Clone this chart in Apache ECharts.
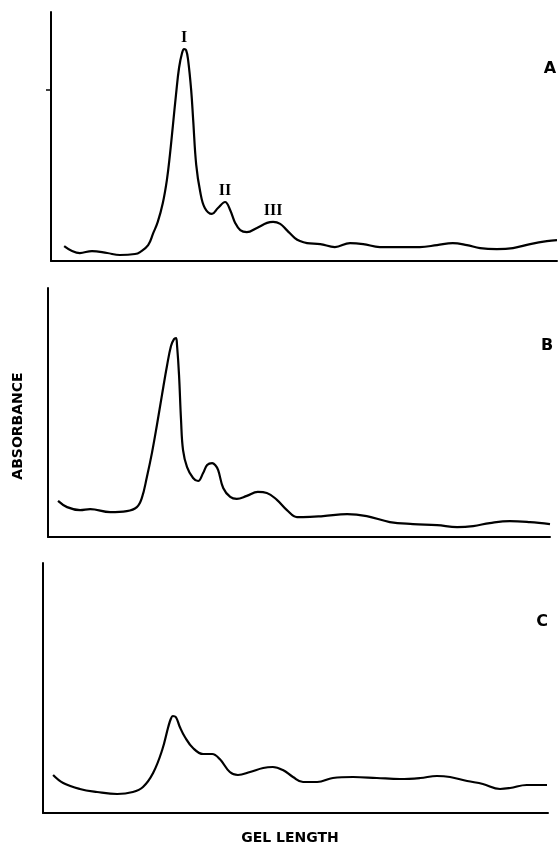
<!DOCTYPE html>
<html>
<head>
<meta charset="utf-8">
<script src="https://cdn.jsdelivr.net/npm/echarts@6/dist/echarts.min.js"></script>
<style>
html, body { margin: 0; padding: 0; background: #fff; }
#chart { width: 560px; height: 846px; }
</style>
</head>
<body>
<div id="chart"></div>
<script>
// gel length (0-100 along each x axis) and absorbance (0-100 of each y axis)
var gelA = [2.6, 5.7, 8.1, 11.1, 13.6, 16.6, 17.6, 19.2, 20.2, 21.1, 22.1, 22.9, 23.5, 24.1, 24.7, 25.3, 25.9, 26.3, 26.7, 27.1, 27.7, 28.1, 28.7, 29.5, 30.4, 31.8, 33.0, 34.4, 35.4, 36.4, 37.4, 38.7, 40.7, 42.7, 43.9, 45.3, 46.6, 48.2, 49.2, 50.6, 53.2, 56.1, 59.1, 61.7, 65.0, 68.4, 72.9, 76.3, 79.4, 82.2, 84.8, 88.1, 91.3, 94.7, 98.0, 100];
var absA = [6.0, 3.2, 4.0, 3.2, 2.4, 2.8, 3.6, 6.4, 11.2, 15.7, 23.3, 32.5, 42.6, 54.6, 66.7, 77.5, 83.5, 85.1, 84.7, 80.7, 68.7, 56.6, 38.6, 27.7, 21.3, 18.9, 21.3, 23.7, 20.5, 15.3, 12.4, 11.6, 13.3, 15.3, 15.7, 14.9, 12.4, 9.2, 8.0, 7.2, 6.8, 5.6, 7.2, 6.8, 5.6, 5.6, 5.6, 6.4, 7.2, 6.4, 5.2, 4.8, 5.2, 6.8, 8.0, 8.4];

var gelB = [2.0, 3.8, 6.4, 8.4, 12.4, 15.7, 17.7, 18.7, 19.7, 20.7, 21.7, 22.7, 23.7, 24.5, 25.1, 25.5, 25.7, 26.1, 26.5, 26.9, 27.7, 28.9, 29.9, 30.9, 31.7, 32.7, 33.3, 33.9, 34.9, 36.3, 37.6, 39.6, 41.8, 43.6, 45.6, 47.6, 49.6, 50.8, 54.8, 59.6, 63.5, 68.1, 72.7, 77.5, 81.5, 84.7, 88.0, 92.0, 96.0, 100];
var absB = [14.5, 12.0, 10.8, 11.2, 10.0, 10.4, 12.0, 15.7, 24.1, 33.7, 45.0, 57.0, 68.7, 76.7, 79.5, 79.9, 77.1, 65.1, 47.0, 34.9, 28.1, 23.7, 22.5, 25.7, 28.9, 29.7, 28.9, 26.9, 19.7, 16.1, 15.3, 16.5, 18.1, 17.7, 14.9, 10.8, 8.0, 8.0, 8.4, 9.2, 8.4, 6.0, 5.2, 4.8, 4.0, 4.4, 5.6, 6.4, 6.0, 5.2];

var gelC = [2.0, 4.0, 7.3, 10.7, 14.7, 17.8, 19.8, 21.8, 23.6, 24.8, 25.3, 25.7, 26.3, 27.1, 28.1, 29.7, 31.7, 33.5, 35.0, 37.0, 38.6, 41.0, 43.6, 45.5, 47.5, 49.5, 51.5, 54.3, 57.4, 61.4, 66.1, 70.7, 74.7, 78.0, 80.6, 84.0, 87.1, 90.5, 92.5, 95.8, 99.8];
var absC = [15.2, 12.0, 9.6, 8.4, 7.6, 8.4, 10.4, 16.0, 25.2, 34.4, 37.6, 38.8, 38.4, 34.4, 30.4, 26.0, 23.6, 23.6, 21.6, 16.4, 15.2, 16.4, 18.0, 18.4, 17.2, 14.4, 12.4, 12.4, 14.0, 14.4, 14.0, 13.6, 14.0, 14.8, 14.4, 12.8, 11.6, 9.6, 10.0, 11.2, 11.2];

var panelNames = ['A', 'B', 'C'];
var peakNames = ['I', 'II', 'III'];
var tickA = [68.7];

function pairs(xs, ys) {
    return xs.map(function (x, i) { return [x, ys[i]]; });
}

// the three biggest local maxima of a trace, left to right
function peaks(xs, ys) {
    var found = [];
    for (var i = 1; i < ys.length - 1; i++) {
        if (ys[i] > ys[i - 1] && ys[i] >= ys[i + 1]) found.push(i);
    }
    found.sort(function (a, b) { return ys[b] - ys[a]; });
    return found.slice(0, 3).sort(function (a, b) { return a - b; });
}

var chartDom = document.getElementById('chart');
var myChart = echarts.init(chartDom);
var option;

var axisLine = { show: true, lineStyle: { color: '#000', width: 2 } };
var grids = [
    { left: 51, width: 506, top: 12, height: 249 },
    { left: 48, width: 502, top: 288, height: 249 },
    { left: 43, width: 505, top: 563, height: 250 }
];

var xAxes = [], yAxes = [];
grids.forEach(function (g, i) {
    xAxes.push({
        gridIndex: i, type: 'value', min: 0, max: 100,
        axisLine: axisLine, axisTick: { show: false },
        axisLabel: { show: false }, splitLine: { show: false }
    });
    yAxes.push({
        gridIndex: i, type: 'value', min: 0, max: 100,
        axisLine: axisLine,
        axisTick: i === 0
            ? { show: true, customValues: tickA, length: 5, lineStyle: { color: '#000', width: 1.5 } }
            : { show: false },
        axisLabel: { show: false }, splitLine: { show: false }
    });
});

var peakIdx = peaks(gelA, absA);
var peakMarks = peakIdx.map(function (k, j) {
    return { coord: [gelA[k], absA[k]], value: peakNames[j] };
});

function trace(i, xs, ys) {
    return {
        type: 'line',
        xAxisIndex: i,
        yAxisIndex: i,
        data: pairs(xs, ys),
        smooth: 0.4,
        symbol: 'none',
        lineStyle: { color: '#000', width: 2.2 }
    };
}

var seriesA = trace(0, gelA, absA);
seriesA.markPoint = {
    symbol: 'circle',
    symbolSize: 0,
    silent: true,
    label: {
        show: true,
        position: 'top',
        distance: 3,
        formatter: function (p) { return p.value; },
        color: '#000',
        fontFamily: 'Liberation Serif',
        fontWeight: 'bold',
        fontSize: 16
    },
    data: peakMarks
};

var letterPos = [[550, 69], [547, 346], [542, 622]];
var graphics = panelNames.map(function (name, i) {
    return {
        type: 'text', x: letterPos[i][0], y: letterPos[i][1],
        style: { text: name, font: 'bold 16px "DejaVu Sans"', fill: '#000', align: 'center', verticalAlign: 'middle' }
    };
});
graphics.push({
    type: 'text', x: 18, y: 426, rotation: Math.PI / 2,
    style: { text: 'ABSORBANCE', font: 'bold 14px "DejaVu Sans"', fill: '#000', align: 'center', verticalAlign: 'middle' }
});
graphics.push({
    type: 'text', x: 290, y: 838,
    style: { text: 'GEL LENGTH', font: 'bold 14px "DejaVu Sans"', fill: '#000', align: 'center', verticalAlign: 'middle' }
});

option = {
    animation: false,
    backgroundColor: '#fff',
    grid: grids,
    xAxis: xAxes,
    yAxis: yAxes,
    graphic: graphics,
    series: [
        seriesA,
        trace(1, gelB, absB),
        trace(2, gelC, absC)
    ]
};

option && myChart.setOption(option);
</script>
</body>
</html>
